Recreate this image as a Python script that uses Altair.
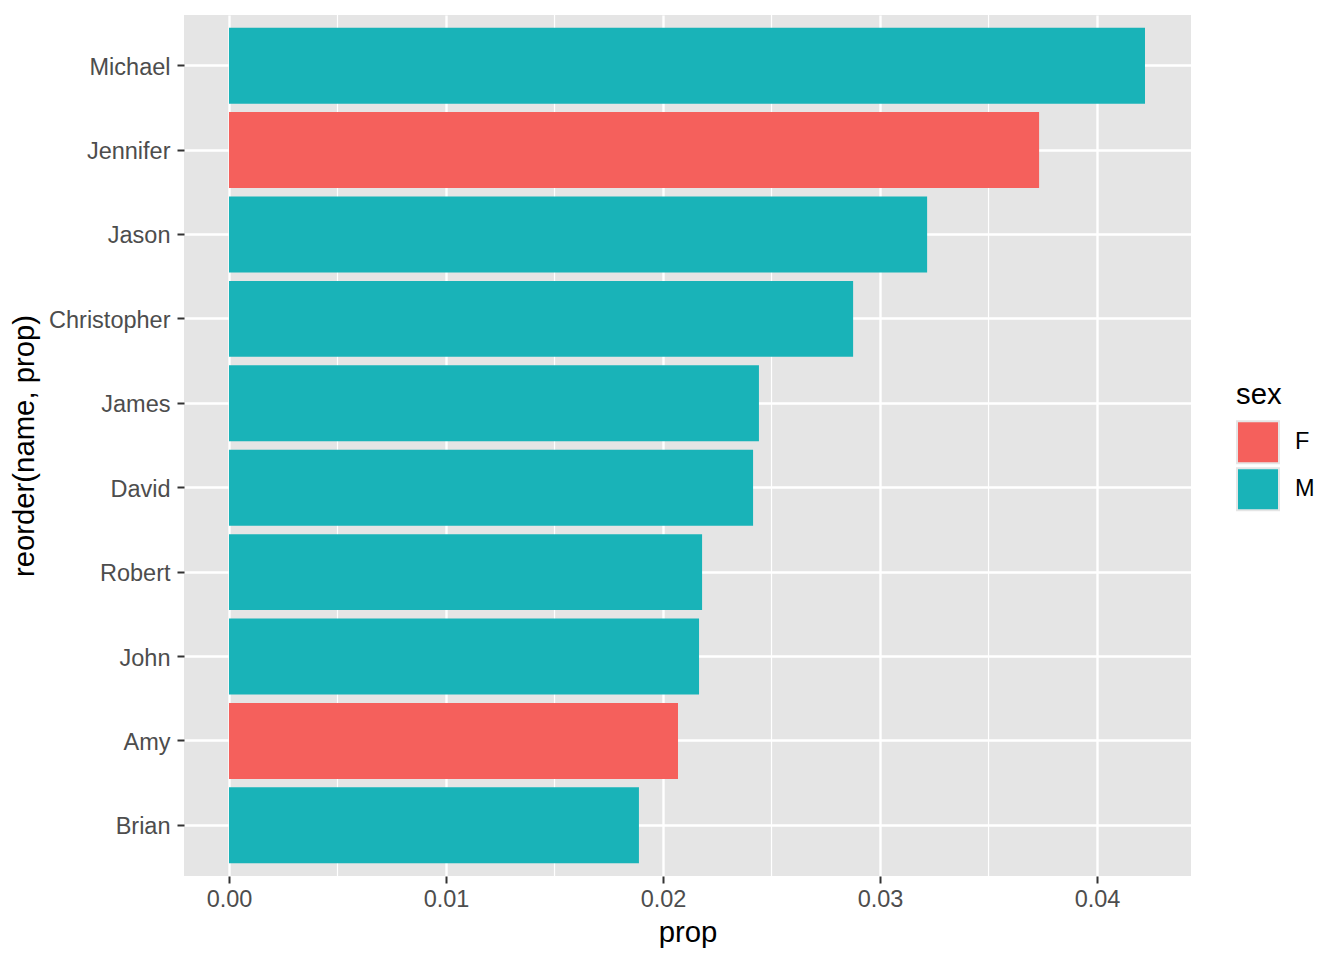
import altair as alt
import pandas as pd

names = ["Michael", "Jennifer", "Jason", "Christopher", "James", "David",
         "Robert", "John", "Amy", "Brian"]
props = [0.04221, 0.03733, 0.03217, 0.02876, 0.02442, 0.02415,
         0.02180, 0.02166, 0.02069, 0.01889]
sexes = ["M", "F", "M", "M", "M", "M", "M", "M", "F", "M"]
x_ticks = [0.0, 0.01, 0.02, 0.03, 0.04]
x_minor = [0.005, 0.015, 0.025, 0.035]

df = pd.DataFrame({"name": names, "prop": props, "sex": sexes})
minor_df = pd.DataFrame({"prop": x_minor})

XDOM = [-0.002074, 0.04433]
FONT = "Liberation Sans"

xscale = alt.Scale(domain=XDOM, nice=False, zero=False)
xaxis = alt.Axis(values=x_ticks, format=".2f", grid=True,
                 gridColor="white", gridWidth=2.4,
                 tickColor="#333333", tickWidth=2, tickSize=7,
                 labelColor="#4D4D4D", labelFontSize=23.5,
                 labelPadding=4, titlePadding=8,
                 titleFontSize=29.3, titleColor="black",
                 titleFontWeight="normal", domain=False,
                 labelFont=FONT, titleFont=FONT)

minor = alt.Chart(minor_df).mark_rule(color="white", strokeWidth=1.2).encode(
    x=alt.X("prop:Q", scale=xscale, title="prop", axis=xaxis),
)

bars = alt.Chart(df).mark_bar().encode(
    x=alt.X("prop:Q", scale=xscale, title="prop", axis=xaxis),
    y=alt.Y("name:N", sort=names, title="reorder(name, prop)",
            scale=alt.Scale(paddingInner=0.1, paddingOuter=0.15),
            axis=alt.Axis(grid=True, gridColor="white", gridWidth=2.4,
                          bandPosition=0.5,
                          tickColor="#333333", tickWidth=2, tickSize=7,
                          labelColor="#4D4D4D", labelFontSize=23.5,
                          labelPadding=7, titlePadding=9, labelOffset=2,
                          titleFontSize=29.3, titleColor="black",
                          titleFontWeight="normal", domain=False,
                          labelFont=FONT, titleFont=FONT)),
    color=alt.Color("sex:N",
                    scale=alt.Scale(domain=["F", "M"], range=["#F5605C", "#19B3B8"]),
                    legend=alt.Legend(orient="none", legendX=1052, legendY=366,
                                      title="sex", titleFontSize=29.3,
                                      titleFont=FONT, titleColor="black",
                                      titleFontWeight="normal", titlePadding=10,
                                      labelFont=FONT, labelFontSize=23.5,
                                      labelColor="black", labelOffset=15,
                                      symbolType="square", symbolSize=1764,
                                      symbolStrokeColor="#E5E5E5",
                                      symbolStrokeWidth=2, symbolOpacity=1,
                                      rowPadding=-3)),
)

chart = alt.layer(minor, bars).properties(
    width=1007, height=861,
    autosize=alt.AutoSizeParams(type="none"),
    padding={"left": 176, "top": 7, "right": 145, "bottom": 76},
).configure(font=FONT).configure_view(fill="#E5E5E5", stroke=None)

chart.save("out.html", embed_options={"renderer": "svg", "actions": False})
